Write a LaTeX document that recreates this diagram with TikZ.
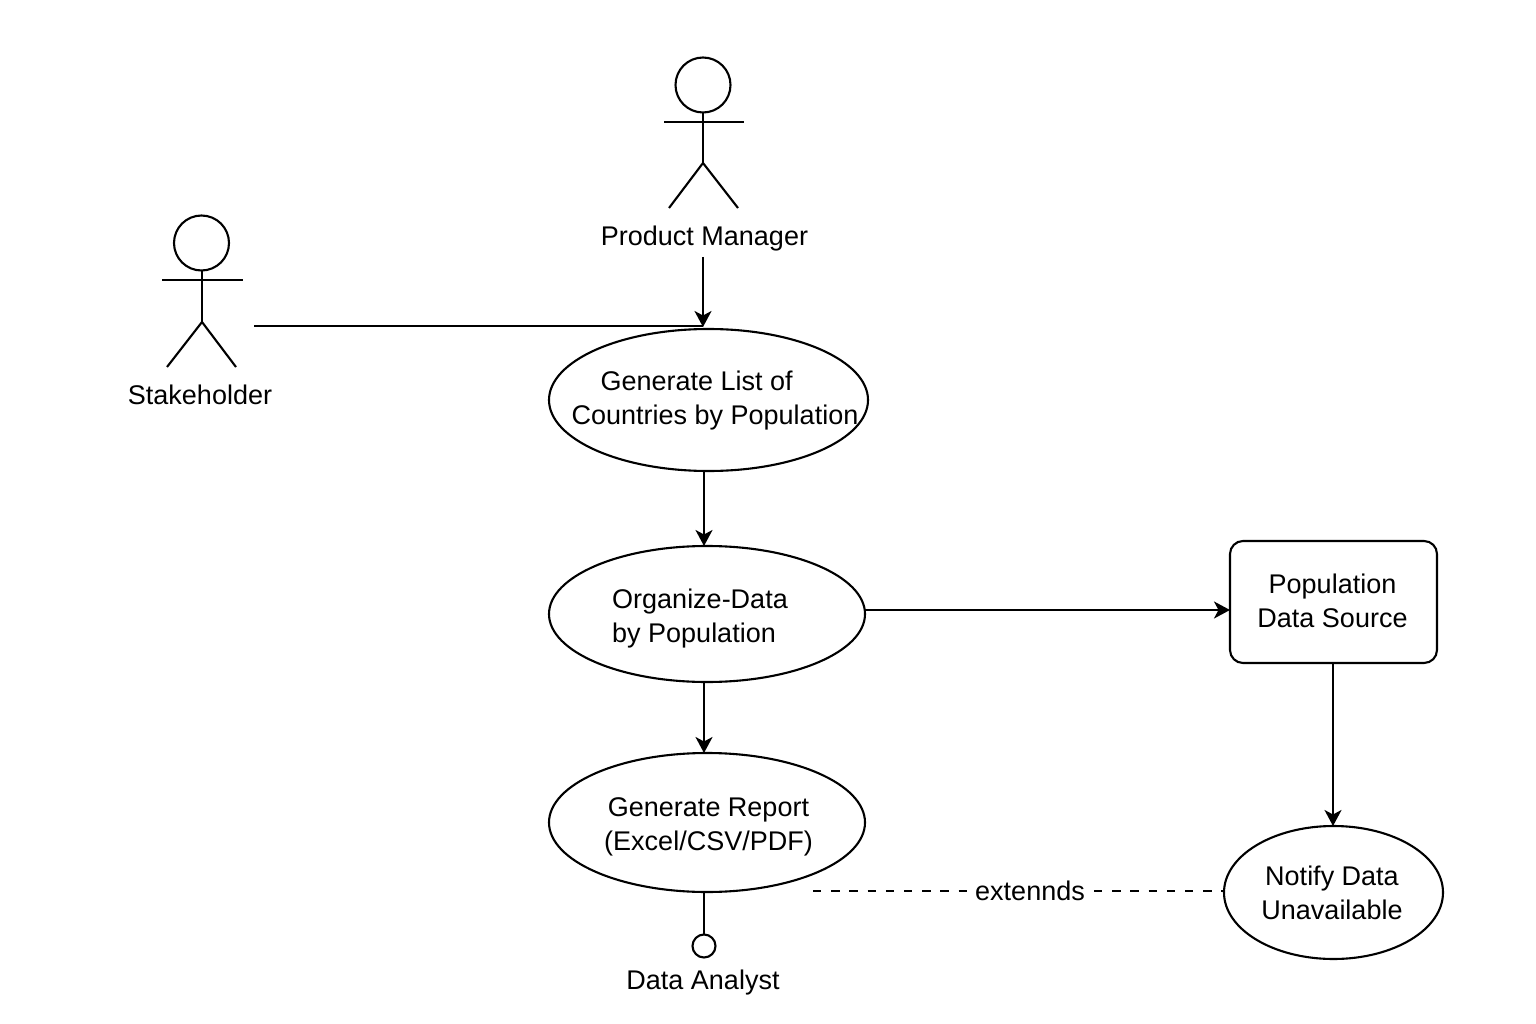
\documentclass[tikz,border=0pt]{standalone}
\usepackage{fontspec}
\setmainfont{Liberation Sans}
\usetikzlibrary{arrows.meta,shapes.geometric}
\begin{document}
\begin{tikzpicture}[x=1pt,y=-1pt,
  stroke/.style={draw=black,line width=2.1pt},
  conn/.style={stroke,-{Stealth[length=16pt,width=17pt,inset=4.5pt]}},
  plainconn/.style={stroke},
  dashconn/.style={draw=black,line width=2pt,dash pattern=on 8.4pt off 9.8pt},
  usecase/.style={ellipse,stroke,inner sep=0pt,outer sep=0pt},
  headshape/.style={circle,stroke,inner sep=0pt,outer sep=0pt,minimum size=55pt},
  lab/.style={font=\fontsize{27}{34}\selectfont,text=black,inner sep=0pt,outer sep=0pt},
  box/.style={rectangle,rounded corners=13pt,stroke,inner sep=0pt,outer sep=0pt,minimum width=207pt,minimum height=122pt}]
\useasboundingbox (0,0) rectangle (1536,1024);
\fill[white] (0,0) rectangle (1536,1024);
% axis coordinates
\coordinate (axis) at (704,0);
\coordinate (rightaxis) at (1333,0);
% actors
\node[headshape] (pmhead) at (703,85) {};
\coordinate (pmhip) at (703,163);
\draw[plainconn] (pmhead.south) -- (pmhip);
\coordinate (pmarml) at (664,122);
\coordinate (pmarmr) at (744,122);
\draw[plainconn] (pmarml) -- (pmarmr);
\coordinate (pmlegl) at (669,208);
\coordinate (pmlegr) at (738,208);
\draw[plainconn] (pmlegl) -- (pmhip) -- (pmlegr);
\node[lab] (pmlabel) at (704.5,239) {Product Manager};

\node[headshape] (shhead) at (201.5,243) {};
\coordinate (shhip) at (202,322);
\draw[plainconn] (shhead.south -| shhip) -- (shhip);
\coordinate (sharml) at (162,280);
\coordinate (sharmr) at (243,280);
\draw[plainconn] (sharml) -- (sharmr);
\coordinate (shlegl) at (167,367);
\coordinate (shlegr) at (236,367);
\draw[plainconn] (shlegl) -- (shhip) -- (shlegr);
\node[lab] (shlabel) at (200,395) {Stakeholder};

% use cases
\node[usecase,minimum width=319pt,minimum height=142pt] (listcase) at (708.5,400) {};
\node[lab,align=left] (listtext) at (715,401) {\hspace*{29pt}Generate List of\\Countries by Population};
\node[usecase,minimum width=316pt,minimum height=136pt] (orgcase) at (707,614) {};
\node[lab,align=left] (orgtext) at (700,619) {Organize-Data\\by Population};
\node[usecase,minimum width=316pt,minimum height=139pt] (repcase) at (707,822.5) {};
\node[lab,align=center] (reptext) at (708.5,826.5) {Generate Report\\(Excel/CSV/PDF)};
\node[box] (source) at (1333.5,602) {};
\node[lab,align=center] (sourcetext) at (1332.5,601) {Population\\Data Source};
\node[usecase,minimum width=219pt,minimum height=133pt] (notify) at (1333.5,892.5) {};
\node[lab,align=center] (notifytext) at (1332,893) {Notify Data\\Unavailable};

% analyst
\node[circle,stroke,inner sep=0pt,outer sep=0pt,minimum size=23pt] (analyst) at (704,946) {};
\node[lab] (analystlabel) at (703,983) {Data Analyst};

% connectors
\coordinate (pmstart) at (703,257);
\coordinate (pmend) at (703,327);
\coordinate (shstart) at (254,326);
\draw[conn] (pmstart) -- (pmend);
\draw[plainconn] (shstart) -- (pmend |- shstart);
\draw[conn] (listcase.south -| axis) -- (orgcase.north -| axis);
\draw[conn] (orgcase.south -| axis) -- (repcase.north -| axis);
\coordinate (orgeast) at (865,610);
\draw[conn] (orgeast) -- (orgeast -| source.west);
\draw[conn] (source.south -| rightaxis) -- (notify.north -| rightaxis);
\draw[plainconn] (repcase.south -| analyst) -- (analyst.north);
\node[lab] (extlabel) at (1030,891) {extennds};
\coordinate (extstart) at (813,891);
\coordinate (extgapl) at (968,891);
\coordinate (extgapr) at (1094,891);
\draw[dashconn] (extstart) -- (extgapl);
\draw[dashconn] (extgapr) -- (notify.west |- extgapr);
\end{tikzpicture}
\end{document}
